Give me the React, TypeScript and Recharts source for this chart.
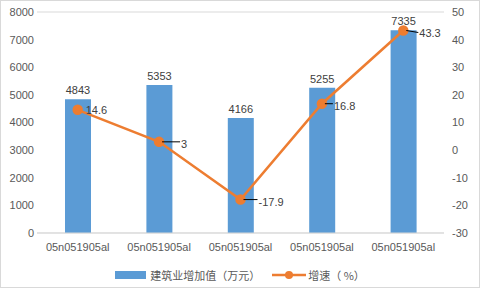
import { ComposedChart, Bar, Line, XAxis, YAxis, CartesianGrid, Legend, LabelList } from 'recharts';

const categories = ['05n051905al', '05n051905al', '05n051905al', '05n051905al', '05n051905al'];
const valueAdded = [4843, 5353, 4166, 5255, 7335];
const growth = [14.6, 3, -17.9, 16.8, 43.3];
const leftTicks = [0, 1000, 2000, 3000, 4000, 5000, 6000, 7000, 8000];
const rightTicks = [-30, -20, -10, 0, 10, 20, 30, 40, 50];

const BLUE = '#5B9BD5';
const ORANGE = '#ED7D31';
const TEXT = '#595959';
const FONT = "'Liberation Sans', 'Noto Sans CJK SC', sans-serif";
const CJK = "'Noto Sans CJK SC', sans-serif";

// leader line lengths next to the growth labels
const leader = [0, 18, 14, 8, 12];

const data = categories.map((name, i) => ({ name, value: valueAdded[i], growth: growth[i] }));

const GrowthLabel = (props: any) => {
    const { x, y, value, index } = props;
    const len = leader[index] ?? 0;
    const tx = x + (len > 0 ? len + 4 : 8);
    return (
        <g>
            {len > 0 && <line x1={x + 3} y1={y} x2={x + 3 + len} y2={y + (index === 4 ? 2 : 0)} stroke="#000" strokeWidth={1} />}
            <text x={tx} y={y + (index === 0 ? 0 : 2)} dy={4} fontSize={11} fill="#404040" fontFamily={FONT}>{value}</text>
        </g>
    );
};

const LegendBox = () => (
    <div style={{ display: 'flex', justifyContent: 'center', alignItems: 'center', height: 24, fontFamily: CJK, fontSize: 11, color: TEXT }}>
        <span style={{ display: 'inline-block', width: 31, height: 8, background: BLUE, marginRight: 4 }} />
        <span style={{ marginRight: 12 }}>建筑业增加值（万元）</span>
        <svg width={34} height={10} style={{ marginRight: 2 }}>
            <line x1={0} y1={5} x2={34} y2={5} stroke={ORANGE} strokeWidth={2.5} />
            <circle cx={17} cy={5} r={4} fill={ORANGE} />
        </svg>
        <span>增速（ %）</span>
    </div>
);

export default function App() {
    return (
        <div style={{ position: 'absolute', left: 0, top: 0, width: 480, height: 288, boxSizing: 'border-box', border: '1px solid #d9d9d9', background: '#fff' }}>
            <ComposedChart width={478} height={286} data={data} margin={{ top: 11, right: 0, left: 0, bottom: 0 }}>
                <CartesianGrid vertical={false} stroke="#d9d9d9" />
                <XAxis dataKey="name" height={30} tickLine={false} axisLine={{ stroke: '#d9d9d9' }} tick={{ fontSize: 11, fill: TEXT, fontFamily: FONT }} tickMargin={4} interval={0} />
                <YAxis yAxisId="left" domain={[0, 8000]} ticks={leftTicks} width={36} tickLine={false} axisLine={false} tickSize={0} tickMargin={3} tick={{ fontSize: 11, fill: TEXT, fontFamily: FONT }} />
                <YAxis yAxisId="right" orientation="right" domain={[-30, 50]} ticks={rightTicks} width={35} tickLine={false} axisLine={false} tickSize={0} tickMargin={8} tick={{ fontSize: 11, fill: TEXT, fontFamily: FONT, textAnchor: 'start' }} />
                <Legend verticalAlign="bottom" height={24} content={<LegendBox />} />
                <Bar yAxisId="left" dataKey="value" fill={BLUE} barSize={26} isAnimationActive={false}>
                    <LabelList dataKey="value" position="top" offset={5} style={{ fontSize: 11, fill: '#404040', fontFamily: FONT }} />
                </Bar>
                <Line yAxisId="right" dataKey="growth" stroke={ORANGE} strokeWidth={2.5} dot={{ r: 4, fill: ORANGE, stroke: ORANGE }} isAnimationActive={false}>
                    <LabelList dataKey="growth" content={<GrowthLabel />} />
                </Line>
            </ComposedChart>
        </div>
    );
}
